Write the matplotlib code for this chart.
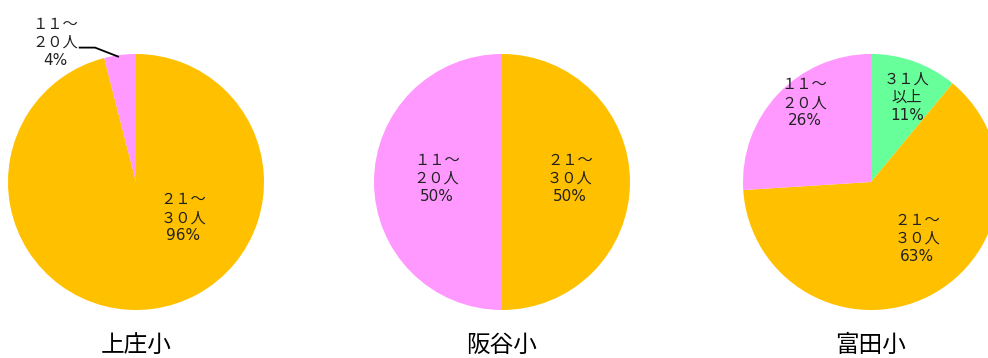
import matplotlib.pyplot as plt

plt.rcParams['font.family'] = ['Noto Sans CJK JP', 'DejaVu Sans']

# データ（割合 %、順番: 31人以上, 21～30人, 11～20人）
schools = ["上庄小", "阪谷小", "富田小"]
categories = ["３１人\n以上", "２１～\n３０人", "１１～\n２０人"]
kamisho = [0, 96, 4]
sakadani = [0, 50, 50]
tonda = [11, 63, 26]
colors = ["#66FF99", "#FFC000", "#FF99FF"]

# ラベル位置（円の半径=1 基準）
label_pos = [
    {1: (0.37, -0.28), 2: (-0.63, 1.09)},
    {1: (0.53, 0.03), 2: (-0.51, 0.03)},
    {0: (0.28, 0.66), 1: (0.36, -0.44), 2: (-0.52, 0.62)},
]
centers_px = [136, 502, 871]

fig = plt.figure(figsize=(9.88, 3.58), dpi=100)
r_px = 128
for i, (name, vals) in enumerate(zip(schools, [kamisho, sakadani, tonda])):
    cx = centers_px[i]
    ax = fig.add_axes([(cx - r_px) / 988, (358 - 182 - r_px) / 358, 2 * r_px / 988, 2 * r_px / 358])
    ax.pie(vals, colors=colors, startangle=90, counterclock=False, radius=1,
           wedgeprops=dict(linewidth=0))
    ax.set_xlim(-1, 1)
    ax.set_ylim(-1, 1)
    ax.set_aspect('equal')
    ax.axis('off')
    for k, (x, y) in label_pos[i].items():
        ax.text(x, y, categories[k] + "\n" + f"{vals[k]}%", ha='center', va='center',
                fontsize=11, linespacing=1.25, color="#222222", clip_on=False,
                family=['DejaVu Sans', 'Noto Sans CJK JP'])
    if i == 0:
        # 引き出し線
        ax.plot([-0.44, -0.32, -0.14], [1.05, 1.05, 0.98], color='black', lw=1.3, clip_on=False)
    fig.text(cx / 988, 1 - 345 / 358, name, ha='center', va='center', fontsize=17)

fig.savefig("out.png", dpi=100)
